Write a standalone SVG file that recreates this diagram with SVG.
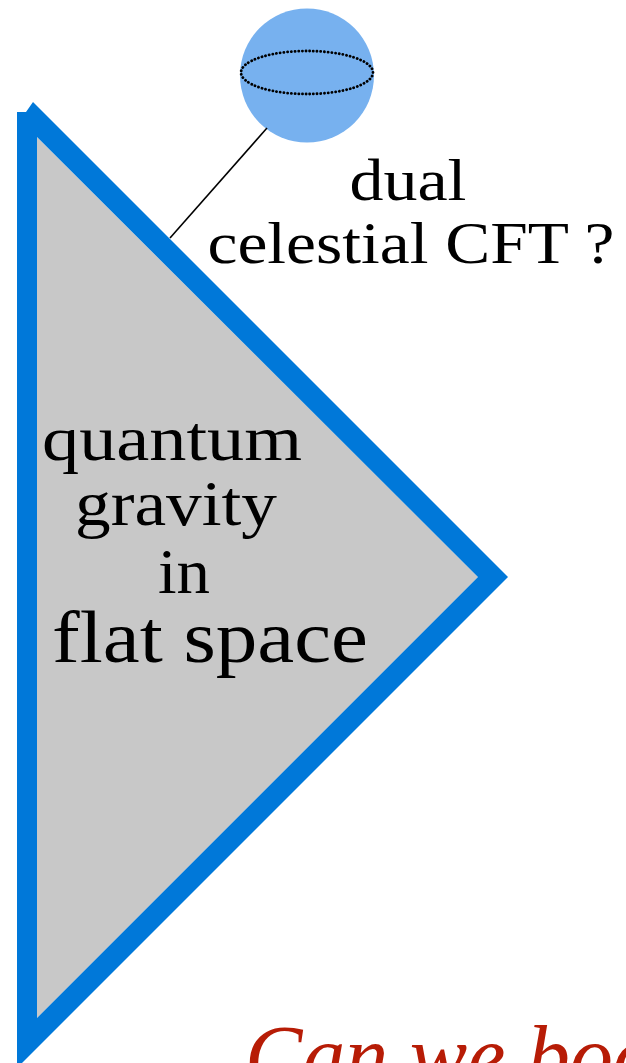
<svg xmlns="http://www.w3.org/2000/svg" width="626" height="1063" viewBox="0 0 626 1063">
<style>
.lbl{font-family:"Liberation Serif","Times New Roman",serif;fill:#000}
.red{font-family:"Liberation Serif","Times New Roman",serif;font-style:italic;fill:#b71c06}
</style>
<rect width="626" height="1063" fill="#fff"/>
<g id="triangle">
<polygon points="37,137 478,577 37,1018" fill="#c8c8c8"/>
<path d="M17,112 L26,112 L33,102 L508,577 L22,1063 L17,1063 Z M37,137 L478,577 L37,1018 Z" fill="#0078d9" fill-rule="evenodd"/>
<text class="lbl" x="172" y="460" font-size="64" text-anchor="middle" textLength="260" lengthAdjust="spacingAndGlyphs">quantum</text>
<text class="lbl" x="176" y="525" font-size="64" text-anchor="middle" textLength="202" lengthAdjust="spacingAndGlyphs">gravity</text>
<text class="lbl" x="184" y="593" font-size="64" text-anchor="middle" textLength="52" lengthAdjust="spacingAndGlyphs">in</text>
<text class="lbl" x="210" y="662" font-size="74" text-anchor="middle" textLength="316" lengthAdjust="spacingAndGlyphs">flat space</text>
</g>
<g id="sphere">
<circle cx="307" cy="75.5" r="67" fill="#77b1ef"/>
<ellipse cx="307" cy="72.5" rx="66" ry="21.5" fill="none" stroke="#000" stroke-width="2.8" stroke-dasharray="0.1 3.6" stroke-linecap="round"/>
</g>
<g id="label">
<text class="lbl" x="408" y="200" font-size="60" text-anchor="middle" textLength="117" lengthAdjust="spacingAndGlyphs">dual</text>
<text class="lbl" x="411" y="263" font-size="60" text-anchor="middle" textLength="407" lengthAdjust="spacingAndGlyphs">celestial CFT ?</text>
</g>
<g id="connectors">
<line x1="267" y1="128" x2="170" y2="238" stroke="#000" stroke-width="1.6"/>
</g>
<g id="caption">
<text class="red" x="245" y="1085" font-size="86">Can we boo</text>
</g>
</svg>
